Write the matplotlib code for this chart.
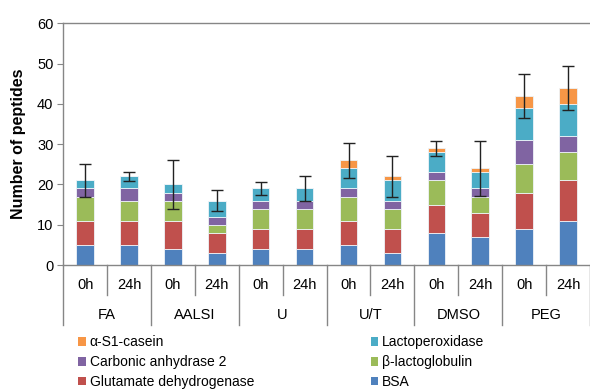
import numpy as np
import matplotlib.pyplot as plt
from matplotlib.patches import Patch
from matplotlib.lines import Line2D

plt.rcParams['font.family'] = ['Liberation Sans', 'DejaVu Sans']

groups = ['FA', 'AALSI', 'U', 'U/T', 'DMSO', 'PEG']
times = ['0h', '24h']

# peptides per protein, one value per sample (group x time)
bsa = [5, 5, 4, 3, 4, 4, 5, 3, 8, 7, 9, 11]
glutamate = [6, 6, 7, 5, 5, 5, 6, 6, 7, 6, 9, 10]
b_lacto = [6, 5, 5, 2, 5, 5, 6, 5, 6, 4, 7, 7]
carbonic = [2, 3, 2, 2, 2, 2, 2, 2, 2, 2, 6, 4]
lactoperox = [2, 3, 2, 4, 3, 3, 5, 5, 5, 4, 8, 8]
casein = [0, 0, 0, 0, 0, 0, 2, 1, 1, 1, 3, 4]
errors = [4, 1.1, 6, 2.6, 1.5, 3, 4.3, 5.1, 1.9, 6.9, 5.5, 5.5]

series = [
    ('BSA', bsa, '#4F81BD'),
    ('Glutamate dehydrogenase', glutamate, '#C0504D'),
    ('\u03b2-lactoglobulin', b_lacto, '#9BBB59'),
    ('Carbonic anhydrase 2', carbonic, '#8064A2'),
    ('Lactoperoxidase', lactoperox, '#4BACC6'),
    ('\u03b1-S1-casein', casein, '#F79646'),
]

fig = plt.figure(figsize=(5.9, 3.9), dpi=100)
ax = fig.add_axes([0.107, 0.3205, 0.893, 0.6195])

x = np.arange(len(bsa))
bottom = np.zeros(len(bsa))
for name, vals, col in series:
    vals = np.array(vals, dtype=float)
    ax.bar(x, vals, 0.4, bottom=bottom, color=col, edgecolor='#eef3f8',
           linewidth=0.6, label=name, zorder=2)
    bottom += vals

ax.errorbar(x, bottom, yerr=errors, fmt='none', ecolor='#222222',
            elinewidth=1, capsize=4.5, capthick=1, zorder=3)

ax.set_xlim(-0.5, len(bsa) - 0.5)
ax.set_ylim(0, 60)
ax.set_yticks(range(0, 61, 10))
ax.tick_params(axis='y', labelsize=10.5, length=4, color='#868686', pad=3)
ax.set_xticks([])
ax.set_ylabel('Number of peptides', fontsize=11.5, fontweight='bold', labelpad=8)

for s in ['left', 'top', 'bottom']:
    ax.spines[s].set_color('#868686')
    ax.spines[s].set_linewidth(1)
ax.spines['right'].set_visible(False)

# two-level category axis below the bars
tr = ax.get_xaxis_transform()
h1 = 30 / 242.0
h2 = 60 / 242.0
for i in range(len(bsa) + 1):
    xp = i - 0.5
    depth = h2 if i % 2 == 0 else h1
    ax.add_line(Line2D([xp, xp], [0, -depth], transform=tr, color='#868686',
                       lw=1, clip_on=False))
for i in range(len(bsa)):
    ax.text(i, -20 / 242.0, times[i % 2], transform=tr, ha='center', va='center',
            fontsize=10.5)
for g, name in enumerate(groups):
    ax.text(2 * g + 0.5, -50 / 242.0, name, transform=tr, ha='center', va='center',
            fontsize=10.5)

# legend, row order as in two columns
handles = {name: Patch(facecolor=col) for name, _, col in series}
order = ['\u03b1-S1-casein', 'Carbonic anhydrase 2', 'Glutamate dehydrogenase',
         'Lactoperoxidase', '\u03b2-lactoglobulin', 'BSA']
fig.legend([handles[n] for n in order], order, ncol=2, loc='upper left',
           bbox_to_anchor=(0.133, 0.14), frameon=False, fontsize=10,
           handlelength=0.55, handleheight=0.55, handletextpad=0.25,
           columnspacing=8.4, labelspacing=0.42, borderaxespad=0, borderpad=0)

fig.savefig('out.png', dpi=100)
